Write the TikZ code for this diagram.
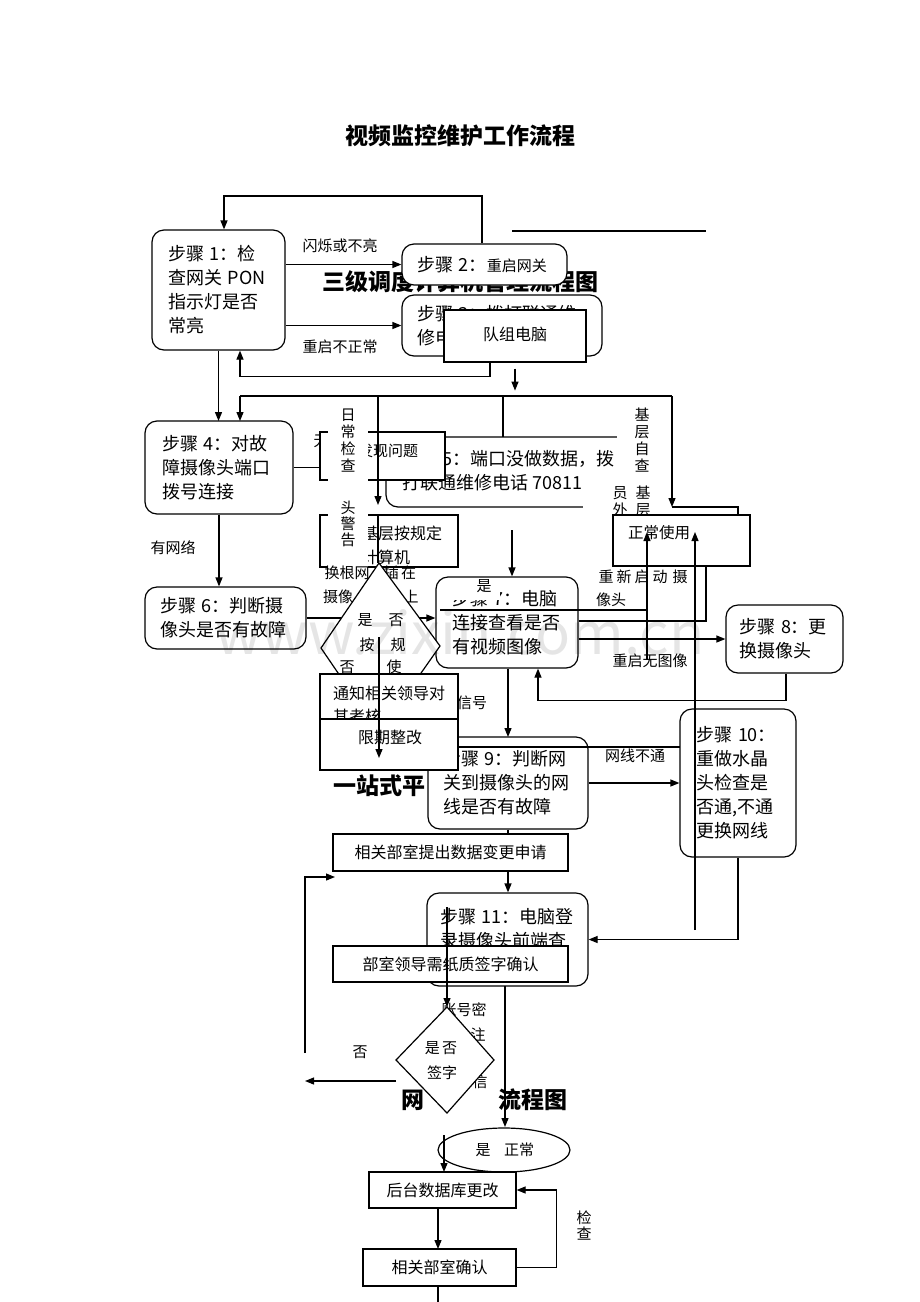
\documentclass[tikz,border=0pt]{standalone}
\usepackage{fontspec}
\setmainfont{Noto Sans CJK SC}
\usetikzlibrary{arrows.meta,shapes.geometric,calc}
\newcommand\fS{\fontsize{18}{24}\selectfont}
\newcommand\fM{\fontsize{15}{20}\selectfont}
\newcommand\fN{\fontsize{16}{23}\selectfont}
\newcommand\fB{\fontsize{23}{27}\selectfont\bfseries}
\begin{document}
\begin{tikzpicture}[x=1pt,y=-1pt,
  every node/.style={inner sep=0pt},
  ln/.style={line width=1.2pt},
  arr/.style={ln,-{Triangle[length=9pt,width=7pt]}},
  stepbox/.style={draw,ln,rounded corners=12pt,fill=white,align=left,font=\fS},
  plainbox/.style={draw,ln,fill=white,font=\fN,align=center},
  lbl/.style={font=\fM},
  vtext/.style={font=\fontsize{15}{17}\selectfont,align=center},
  cover/.style={fill=white,draw=none}]
\fill[white] (0,0) rectangle (920,1302);
\useasboundingbox (0,0) rectangle (920,1302);

% ---- headings behind
\node[font=\fB] (title) at (460,136) {视频监控维护工作流程};
\node[font=\fB] (bg1) at (460,282) {三级调度计算机管理流程图};
\coordinate (hl1) at (512,231); \coordinate (hl2) at (706,231);
\draw[ln] (hl1) -- (hl2);

% ---- labels
\node[lbl] (l1) at (340,246) {闪烁或不亮};
\node[lbl] (l2) at (340,347) {重启不正常};
\node[lbl] (l3) at (173,548) {有网络};
\node[lbl] (l4) at (321,441) {无};

% ---- top group connectors
\coordinate (t1) at (482,196);
\coordinate (h1) at (240,396);
\coordinate (h2) at (672,396);
\coordinate (h3) at (503,396);
\node[stepbox,minimum width=133pt,minimum height=120pt,text width=101pt] (s1) at (218.5,290) {步骤~1：检\\查网关~PON\\指示灯是否\\常亮};
\node[stepbox,minimum width=165pt,minimum height=41pt,text width=135pt] (s2) at (484.5,264.5) {步骤~2：{\fM 重启网关}};
\node[stepbox,minimum width=200pt,minimum height=61pt,text width=170pt] (s3) at (502,325.5) {步骤~3：拨打联通维\\修电话};
\node[plainbox,minimum width=142pt,minimum height=52pt] (pc) at (515,336) {\raisebox{5pt}{队组电脑}};
\draw[arr] (s2.north -| t1) -- (t1) -| ([xshift=5.5pt]s1.north);
\draw[arr] (s1.east |- s2.west) -- (s2.west);
\draw[arr] (s1.east |- s3.west) -- (s3.west);
\draw[arr] ([xshift=-25pt]pc.south) -- ++(0,14) -| ([xshift=21.5pt]s1.south);
\draw[arr] ([yshift=-6pt]pc.south) -- ++(0,22);
\draw[arr] (s1.south) -- (s1.south |- 0,421);
\draw[ln] (h1) -- (h2);
\draw[arr] (h1) -- (240,421);
\draw[arr] (h2) -- (672,507);
\draw[ln] (672,507) -- (738,507) -- (738,515);
\draw[ln] (h3) -- (503,437);

% ---- step 5 and covers
\node[stepbox,minimum width=264pt,minimum height=70pt] (s5) at (518,472) {};
\node[font=\fS,align=left,anchor=west] (s5t) at (402,471) {步骤~5：端口没做数据，拨\\打联通维修电话~70811};
\fill[white] (617,400) rectangle (662,512);
\fill[white] (583,478) rectangle (617,512);
\node[vtext] (jc) at (642,440.5) {基\\层\\自\\查};
\node[vtext] (yw) at (620,501.5) {员\\外};
\node[vtext] (jc2) at (643,501.5) {基\\层};

% ---- boxes A and B with covering column
\node[draw,ln,fill=white,minimum width=125pt,minimum height=48pt] (bA) at (382.5,456) {};
\node[lbl] (bAt) at (388,451) {发现问题};
\node[draw,ln,fill=white,minimum width=138pt,minimum height=52pt] (bB) at (389,541) {};
\node[font=\fontsize{16}{24}\selectfont,align=left,anchor=west] (bBt) at (362,545) {基层按规定\\计算机};
\fill[white] (328,402) rectangle (368,572);
\node[vtext] (rc) at (348,441) {日\\常\\检\\查};
\node[font=\fontsize{15}{16}\selectfont,align=center] (tj) at (348,524) {头\\警\\告};
\draw[arr] (378,396) -- (378,505);
\draw[ln] (378,515) -- (378,563);

% ---- step 4, 6
\node[stepbox,minimum width=148pt,minimum height=93pt,text width=114pt] (s4) at (219,467.5) {步骤~4：对故\\障摄像头端口\\拨号连接};
\draw[ln] (s4.east) -- (bA.west |- s4.east);
\node[stepbox,minimum width=161pt,minimum height=62pt,text width=131pt] (s6) at (225.5,618) {步骤~6：判断摄\\像头是否有故障};
\draw[arr] (s4.south) -- (s4.south |- s6.north);

% ---- diamond 1 and surroundings
\node[lbl] at (347,573) {换根网};
\node[lbl] at (400,573) {插\,在};
\node[lbl] at (338,597) {摄像};
\node[lbl] at (411,597) {上};
\node[stepbox,minimum width=142pt,minimum height=91pt,text width=110pt] (s7) at (507,622.5) {步骤~7：电脑\\连接查看是否\\有视频图像};
\draw[arr] (s6.east) -- (s6.east -| s7.west);
\draw[ln,fill=white] (379,563) -- (440,646) -- (379,733) -- (321,648) -- cycle;
\coordinate (d1) at (380,648);
\node[lbl] at (365,620) {是};
\node[lbl] at (396,620) {否};
\node[lbl] at (367,645) {按};
\node[lbl] at (398,645) {规};
\node[lbl] at (347,667) {否};
\node[lbl] at (394,667) {使};
\node[lbl] at (472,703) {信号};

% ---- step 7 area
\coordinate (a7) at (512,530);
\draw[arr] (a7) -- (a7 |- s7.north);
\fill[white] (444,579) rectangle (500,600);
\node[lbl] at (484,586) {是};
\draw[ln] (440,610) -- (647,610);
\node[draw,ln,fill=white,minimum width=137pt,minimum height=51pt] (N) at (681.5,540.5) {};
\node[font=\fontsize{15.5}{20}\selectfont] (Nt) at (659,533) {正常使用};
\node[lbl] at (606,577) {重};
\node[lbl] at (624,577) {新};
\node[lbl] at (642,577) {启};
\node[lbl] at (660,577) {动};
\node[lbl] at (680,577) {摄};
\node[lbl] at (611,600) {像头};
\node[lbl] at (650,661) {重启无图像};
\draw[arr] (647,660) -- (647,532);
\draw[ln] ([yshift=1.5pt]s7.east) -| ([xshift=24.5pt]N.south);
\node[stepbox,minimum width=117pt,minimum height=68pt,text width=91pt] (s8) at (784.5,639) {步骤~8：更\\换摄像头};
\draw[arr] (s7.east |- s8.west) -- (s8.west);
\draw[arr] ([xshift=1.5pt]s8.south) -- ++(0,27) -| ([xshift=31pt]s7.south);

% ---- step 9, 10
\node[font=\fB] (yz) at (379,786) {一站式平};
\draw[arr] ([xshift=1pt]s7.south) -- (508,737);
\node[stepbox,minimum width=160pt,minimum height=92pt,text width=130pt] (s9) at (508,783) {步骤~9：判断网\\关到摄像头的网\\线是否有故障};
\draw[ln] (458,747) -- (695,747);
\node[stepbox,minimum width=116pt,minimum height=148pt,text width=84pt] (s10) at (738,783) {步骤~10：\\重做水晶\\头检查是\\否通,不通\\更换网线};
\draw[arr] (s9.east) -- (s9.east -| s10.west);
\node[lbl] at (635,756) {网线不通};
\draw[arr] (695,930) -- (695,532);

% ---- notify boxes
\node[draw,ln,fill=white,minimum width=138pt,minimum height=66pt] (tz) at (389,707) {};
\node[font=\fN,align=left,anchor=west] (tzt) at (333,704.5) {通知相关领导对\\其考核};
\node[draw,ln,fill=white,minimum width=138pt,minimum height=51pt] (xq) at (389,744.5) {};
\node[font=\fN] (xqt) at (390,737) {限期整改};
\draw[arr] (379,637) -- (379,758);

% ---- data change flow
\node[plainbox,minimum width=235pt,minimum height=37pt] (r1) at (450.5,852.5) {相关部室提出数据变更申请};
\draw[ln] (s9.south) -- (s9.south |- r1.north);
\node[stepbox,minimum width=161pt,minimum height=93pt,text width=135pt] (s11) at (507.5,939.5) {步骤~11：电脑登\\录摄像头前端查\\~};
\draw[arr] (s9.south |- r1.south) -- (s9.south |- s11.north);
\draw[arr] (s10.south) |- (s11.east);
\node[plainbox,minimum width=235pt,minimum height=36pt] (r2) at (450.5,964) {部室领导需纸质签字确认};
\coordinate (d2t) at (447,1007);
\draw[arr] (447,907) -- (d2t);

\node[lbl] at (464,1010) {账号密};
\node[lbl] at (478,1035) {注};
\node[lbl] at (480,1082) {信};
\node[font=\fB] (wl1) at (413,1100) {网};
\node[font=\fB] (wl2) at (533,1100) {流程图};
\draw[ln,fill=white] (d2t) -- (494,1060) -- (447,1113) -- (396,1060) -- cycle;
\coordinate (d2) at (445,1060);
\node[lbl] at (441,1048) {是\,否};
\node[lbl] at (442,1073) {签字};
\node[lbl] at (360,1052) {否};
\draw[arr] (396,1081) -- (305,1081);
\draw[arr] (305,1053) |- (335,877);
\draw[arr] (505,986) -- (505,1127);

\node[draw,ln,ellipse,minimum width=132pt,minimum height=44pt] (E) at (504,1150) {};
\node[lbl] at (483,1150) {是};
\node[lbl] at (519,1150) {正常};
\draw[arr] (444,1135) -- (444,1172);
\node[plainbox,minimum width=147pt,minimum height=36pt] (r3) at (442.5,1190) {后台数据库更改};
\node[plainbox,minimum width=153pt,minimum height=37pt] (r4) at (439.5,1267.5) {相关部室确认};
\draw[arr] (438,1208) -- (438,1249);
\draw[ln] (438,1286) -- (438,1302);
\draw[arr] (r4.east) -- ++(40,0) |- (r3.east);
\node[font=\fontsize{15}{16}\selectfont,align=center] (jc3) at (584,1225) {检\\查};

% ---- watermark
\node[font=\fontsize{58}{58}\selectfont,text opacity=0.1] (wm) at (460,632) {www.zixin.com.cn};
\end{tikzpicture}
\end{document}
